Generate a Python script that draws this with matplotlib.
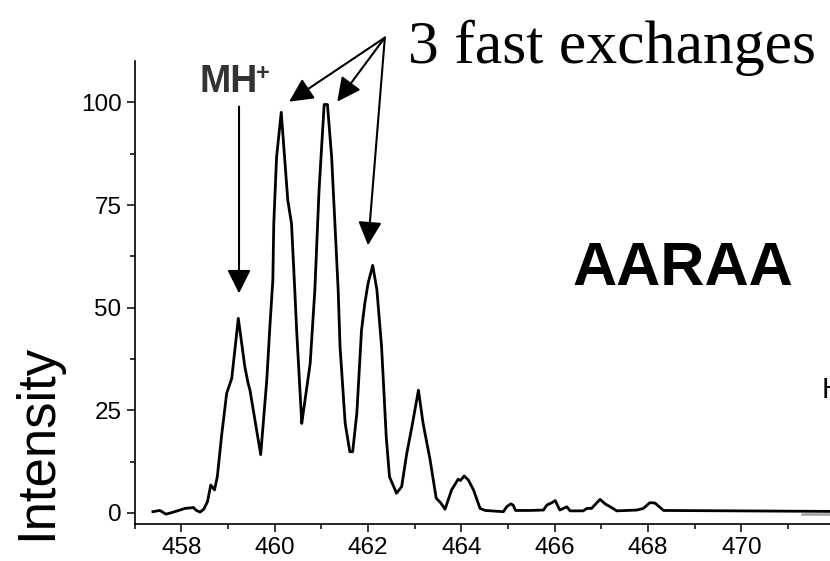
import matplotlib.pyplot as plt

# --- data ---
mz = [457.39, 457.54, 457.67, 457.83, 458.08, 458.26, 458.31, 458.40, 458.48,
      458.56, 458.63, 458.71, 458.77, 458.86, 458.97, 459.08, 459.22, 459.36,
      459.43, 459.47, 459.70, 459.83, 459.90, 459.96, 459.98, 460.04, 460.14,
      460.28, 460.36, 460.43, 460.47, 460.58, 460.61, 460.76, 460.86, 460.95,
      461.06, 461.13, 461.22, 461.36, 461.40, 461.51, 461.61, 461.67, 461.76,
      461.86, 461.93, 462.00, 462.10, 462.19, 462.29, 462.39, 462.46, 462.61,
      462.72, 462.83, 462.94, 463.08, 463.18, 463.33, 463.46, 463.56, 463.65,
      463.79, 463.93, 463.98, 464.06, 464.15, 464.26, 464.40, 464.51, 464.90,
      464.97, 465.06, 465.11, 465.16, 465.47, 465.76, 465.83, 465.94, 466.01,
      466.11, 466.26, 466.33, 466.61, 466.69, 466.79, 466.97, 467.08, 467.22,
      467.33, 467.76, 467.90, 468.04, 468.15, 468.33, 473.0]
intensity = [0.3, 0.6, -0.3, 0.2, 1.1, 1.3, 0.7, 0.2, 0.9,
             2.75, 6.8, 5.6, 8.8, 18.6, 29.1, 32.8, 47.4, 35.6,
             31.6, 29.9, 14.2, 32.4, 46.0, 56.7, 70.5, 86.7, 97.6,
             76.2, 70.5, 54.3, 44.5, 21.8, 24.3, 36.4, 54.3, 78.6,
             99.5, 99.5, 86.7, 54.3, 40.5, 21.8, 14.9, 14.9, 24.3,
             44.5, 51.0, 55.9, 60.3, 54.3, 40.5, 18.5, 8.8, 4.8,
             6.4, 14.5, 21.0, 29.9, 21.8, 12.9, 3.6, 2.4, 0.9,
             5.6, 8.2, 7.9, 9.0, 8.0, 5.6, 1.1, 0.6, 0.3,
             1.5, 2.2, 1.9, 0.6, 0.6, 0.7, 1.9, 2.5, 3.0,
             0.7, 1.5, 0.5, 0.5, 1.1, 1.1, 3.3, 2.2, 1.3,
             0.5, 0.7, 1.1, 2.5, 2.4, 0.6, 0.3]

# faint grey trace visible at the far right
grey_mz = [471.3, 473.0]
grey_int = [-0.3, -0.3]

x_ticks = [458, 460, 462, 464, 466, 468, 470]
x_minor = [457, 459, 461, 463, 465, 467, 469, 471]
y_ticks = [0, 25, 50, 75, 100]
y_minor = [12.5, 37.5, 62.5, 87.5]

# arrow targets (m/z, intensity)
mh_tail = (459.235, 99.0)
mh_tip = (459.235, 53.5)
fast_src = (462.36, 115.8)
fast_tips = [(460.31, 100.2), (461.34, 100.2), (462.00, 65.2)]

W, H = 830, 561
fig = plt.figure(figsize=(W / 100, H / 100), dpi=100)
ax = fig.add_axes([134.7 / W, 1 - 524 / H, 746.7 / W, 463 / H])

ax.plot(mz, intensity, color="black", linewidth=2.0)
ax.plot(grey_mz, grey_int, color="#a0a0a0", linewidth=1.8)

ax.set_xlim(457, 473)
ax.set_ylim(-2.7, 110.1)
ax.set_xticks(x_ticks)
ax.set_yticks(y_ticks)
ax.set_xticks(x_minor, minor=True)
ax.set_yticks(y_minor, minor=True)

for side in ("top", "right"):
    ax.spines[side].set_visible(False)
for side in ("left", "bottom"):
    ax.spines[side].set_linewidth(1.2)

ax.tick_params(which="major", length=5.5, width=1.1, labelsize=17.5, pad=4)
ax.tick_params(which="minor", length=3.5, width=1.1)
for lab in ax.get_xticklabels() + ax.get_yticklabels():
    lab.set_fontfamily("Liberation Sans")

# --- annotations ---
fig.text(37 / W, 1 - 442 / H, "Intensity", rotation=90, ha="center", va="center",
         fontsize=38, family="Liberation Sans")
fig.text(408 / W, 1 - 63 / H, "3 fast exchanges", ha="left", va="baseline",
         fontsize=44.5, family="Liberation Serif")
fig.text(572 / W, 1 - 285 / H, "AARAA", ha="left", va="baseline",
         fontsize=44, fontweight="bold", family="Liberation Sans")
fig.text(199 / W, 1 - 92 / H, "MH", ha="left", va="baseline",
         fontsize=27, fontweight="bold", family="Liberation Sans", color="#333333")
fig.text(256 / W, 1 - 80 / H, "+", ha="left", va="baseline",
         fontsize=17, fontweight="bold", family="Liberation Sans", color="#333333")
# partly cut off at the right edge, as in the original
fig.text(822 / W, 1 - 398 / H, "H", ha="left", va="baseline",
         fontsize=21, family="Liberation Sans")

arrow = dict(arrowstyle="-|>", mutation_scale=36, lw=1.5, color="black",
             shrinkA=0, shrinkB=0)
ax.annotate("", xy=mh_tip, xytext=mh_tail, arrowprops=arrow, annotation_clip=False)
for tip in fast_tips:
    ax.annotate("", xy=tip, xytext=fast_src, arrowprops=arrow, annotation_clip=False)

fig.savefig("out.png", dpi=100)
